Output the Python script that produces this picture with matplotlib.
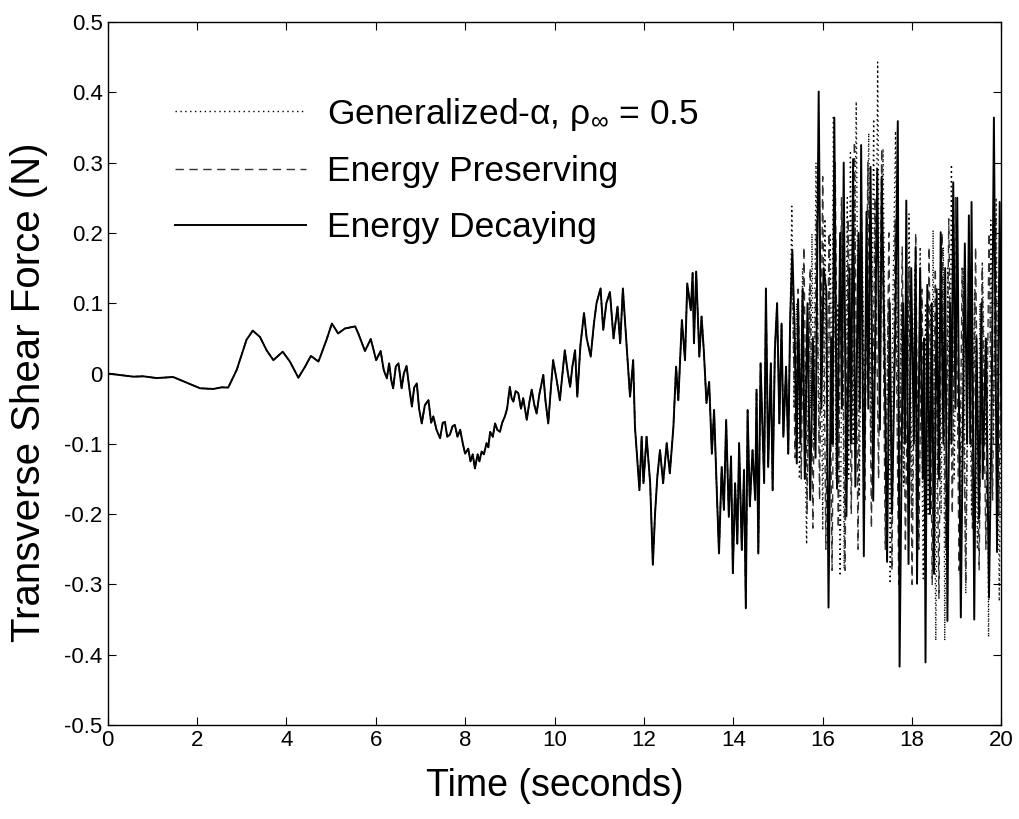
import matplotlib
matplotlib.use("Agg")
import matplotlib.pyplot as plt
import numpy as np

plt.rcParams['font.family'] = ['Liberation Sans', 'DejaVu Sans']
plt.rcParams['mathtext.fontset'] = 'custom'
plt.rcParams['mathtext.rm'] = 'Liberation Sans'
plt.rcParams['mathtext.it'] = 'Liberation Sans'

# ---- data ----
# common part shared by all three schemes (t in s, force in N)
base_t = [0, 0.58, 0.8, 1.1, 1.47, 1.77, 2.07, 2.37, 2.55, 2.70, 2.89, 3.11, 3.25, 3.41,
          3.56, 3.71, 3.92, 4.08, 4.27, 4.42, 4.55, 4.72, 4.90, 5.02, 5.16, 5.31, 5.54,
          5.61, 5.76, 5.89, 6.01, 6.11, 6.18, 6.25, 6.30, 6.35, 6.39, 6.45, 6.51, 6.58,
          6.63, 6.69, 6.75, 6.81, 6.86, 6.92, 6.97, 7.03, 7.10, 7.18, 7.24, 7.29, 7.36,
          7.44, 7.50, 7.55, 7.60, 7.66, 7.72, 7.77, 7.83, 7.89, 7.95, 8.00, 8.07, 8.12,
          8.17, 8.22, 8.28, 8.32, 8.37, 8.42, 8.48, 8.52, 8.56, 8.62, 8.67, 8.72, 8.78,
          8.83, 8.89, 8.94, 9.00, 9.04, 9.08, 9.13, 9.19, 9.25, 9.30, 9.38, 9.44, 9.49,
          9.55, 9.60, 9.66, 9.75, 9.80, 9.86, 9.92, 9.97, 10.05, 10.12, 10.18, 10.23,
          10.30, 10.35, 10.40, 10.46, 10.51, 10.58, 10.66, 10.72, 10.81, 10.88, 10.94,
          11.03, 11.09, 11.16, 11.24, 11.32, 11.41, 11.47, 11.53, 11.62, 11.69, 11.76,
          11.80, 11.90, 11.95, 11.99, 12.06, 12.14, 12.20, 12.25, 12.30, 12.36, 12.43,
          12.51, 12.58, 12.66, 12.72, 12.77, 12.85, 12.92, 12.97, 13.05, 13.09, 13.12,
          13.17, 13.24, 13.29, 13.34, 13.40, 13.46, 13.52, 13.57, 13.63, 13.68, 13.74,
          13.79, 13.84, 13.90, 13.95, 13.99, 14.04, 14.09, 14.13, 14.19, 14.24, 14.28,
          14.32, 14.37, 14.43, 14.49, 14.52, 14.56, 14.61, 14.66, 14.69, 14.73, 14.78,
          14.84, 14.88, 14.93, 14.98, 15.03, 15.08, 15.12, 15.18, 15.23, 15.27]
base_v = [0, -0.0045, -0.004, -0.0065, -0.005, -0.013, -0.021, -0.022, -0.0197, -0.020,
          0.005, 0.048, 0.061, 0.052, 0.033, 0.019, 0.031, 0.017, -0.006, 0.0097, 0.025,
          0.017, 0.048, 0.071, 0.057, 0.064, 0.067, 0.057, 0.032, 0.049, 0.019, 0.032,
          0.005, -0.007, 0.0145, -0.01, -0.021, 0.01, 0.0145, -0.021, 0.0, 0.0107, -0.02,
          -0.047, -0.02, -0.014, -0.05, -0.071, -0.045, -0.038, -0.07, -0.061, -0.08,
          -0.092, -0.07, -0.069, -0.09, -0.087, -0.075, -0.073, -0.09, -0.080, -0.10,
          -0.114, -0.107, -0.125, -0.115, -0.135, -0.115, -0.125, -0.111, -0.115, -0.099,
          -0.105, -0.083, -0.09, -0.071, -0.08, -0.083, -0.07, -0.061, -0.05, -0.019,
          -0.035, -0.040, -0.025, -0.028, -0.05, -0.035, -0.066, -0.04, -0.023, -0.045,
          -0.057, -0.03, -0.002, -0.04, -0.071, -0.02, 0.019, -0.01, -0.038, 0.00, 0.033,
          0.0, -0.019, 0.01, 0.033, -0.033, 0.04, 0.086, 0.05, 0.024, 0.07, 0.100, 0.121,
          0.062, 0.10, 0.116, 0.050, 0.095, 0.043, 0.121, 0.033, -0.033, 0.019, -0.076,
          -0.166, -0.090, -0.156, -0.090, -0.156, -0.272, -0.199, -0.147, -0.109, -0.156,
          -0.099, -0.142, -0.076, 0.0097, -0.038, 0.076, 0.019, 0.128, 0.090, 0.143, 0.043,
          0.145, 0.024, 0.081, 0.033, -0.042, -0.012, -0.114, -0.052, -0.166, -0.256,
          -0.133, -0.194, -0.066, -0.204, -0.118, -0.284, -0.156, -0.242, -0.099, -0.251,
          -0.137, -0.334, -0.052, -0.189, -0.109, -0.180, -0.023, -0.256, 0.0145, -0.090,
          -0.156, 0.121, -0.133, 0.0145, -0.166, 0.033, 0.100, -0.071, 0.071, -0.090,
          0.0097, -0.114, 0.071]

# Generalized-alpha tail (t > 15.27 s)
ga_tail_t = [15.31, 15.36, 15.42, 15.48, 15.55, 15.64, 15.70, 15.73, 15.76, 15.80, 15.85,
             15.92, 15.96, 16.00, 16.05, 16.10, 16.17, 16.20, 16.24, 16.30, 16.34, 16.39,
             16.44, 16.48, 16.55, 16.58, 16.62, 16.68, 16.75, 16.82, 16.88, 16.94, 17.03,
             17.08, 17.14, 17.18, 17.23, 17.28, 17.35, 17.42, 17.47, 17.51, 17.57, 17.63,
             17.70, 17.76, 17.81, 17.87, 17.90, 17.93, 18.00, 18.06, 18.11, 18.18, 18.25,
             18.30, 18.36, 18.42, 18.44, 18.47, 18.53, 18.60, 18.65, 18.70, 18.73, 18.80,
             18.84, 18.88, 18.94, 19.01, 19.08, 19.15, 19.20, 19.27, 19.33, 19.40, 19.46,
             19.52, 19.54, 19.57, 19.65, 19.68, 19.71, 19.76, 19.82, 19.88, 19.95, 20.0]
ga_tail_v = [0.238, -0.05, 0.10, -0.15, 0.15, -0.243, 0.12, -0.05, 0.199, -0.10, 0.30,
             -0.10, 0.10, -0.223, 0.22, -0.15, 0.20, -0.10, 0.367, -0.15, 0.10, -0.288,
             0.15, -0.278, 0.25, -0.15, 0.314, -0.10, 0.387, -0.175, 0.20, -0.05, 0.342,
             -0.10, 0.362, 0.0, 0.443, -0.05, 0.32, -0.15, 0.10, -0.299, 0.10, 0.345,
             -0.15, 0.10, -0.161, 0.15, -0.05, 0.227, -0.20, 0.15, -0.285, 0.18, -0.292,
             0.10, -0.20, 0.10, -0.10, 0.204, -0.38, 0.12, -0.20, 0.18, -0.38, 0.15,
             -0.10, 0.297, -0.15, 0.20, -0.285, 0.15, -0.313, 0.10, -0.20, 0.12, -0.25,
             0.10, -0.10, 0.159, -0.10, 0.05, -0.375, 0.218, -0.10, 0.25, -0.324, 0.05]

# Energy Preserving tail
ep_tail_t = [15.32, 15.38, 15.45, 15.52, 15.58, 15.65, 15.72, 15.78, 15.86, 15.93, 16.00,
             16.07, 16.14, 16.21, 16.28, 16.35, 16.42, 16.50, 16.57, 16.64, 16.71, 16.79,
             16.86, 16.94, 17.01, 17.09, 17.17, 17.25, 17.32, 17.40, 17.48, 17.55, 17.62,
             17.70, 17.78, 17.85, 17.93, 18.00, 18.08, 18.15, 18.22, 18.30, 18.38, 18.45,
             18.52, 18.60, 18.67, 18.75, 18.82, 18.90, 18.97, 19.05, 19.12, 19.20, 19.27,
             19.35, 19.42, 19.50, 19.57, 19.65, 19.72, 19.80, 19.87, 19.94, 20.0]
ep_tail_v = [0.17, -0.12, 0.12, -0.15, 0.18, -0.20, 0.15, -0.22, 0.22, -0.18, 0.28,
             -0.25, 0.20, -0.28, 0.30, -0.22, 0.25, -0.28, 0.22, -0.20, 0.33, -0.25,
             0.28, -0.18, 0.30, -0.22, 0.25, -0.15, 0.32, -0.25, 0.20, -0.28, 0.22,
             -0.30, 0.18, -0.25, 0.15, -0.30, 0.20, -0.25, 0.12, -0.28, 0.18, -0.30,
             0.15, -0.32, 0.20, -0.25, 0.22, -0.20, 0.25, -0.28, 0.15, -0.30, 0.20,
             -0.22, 0.18, -0.28, 0.15, -0.25, 0.20, -0.18, 0.22, -0.20, 0.10]

# Energy Decaying tail
ed_tail_t = [15.32, 15.37, 15.42, 15.45, 15.50, 15.55, 15.60, 15.66, 15.72, 15.78, 15.84,
             15.91, 15.97, 16.02, 16.08, 16.13, 16.19, 16.22, 16.26, 16.32, 16.39, 16.43,
             16.47, 16.53, 16.60, 16.63, 16.68, 16.73, 16.80, 16.83, 16.86, 16.92, 16.98,
             17.02, 17.07, 17.13, 17.22, 17.28, 17.32, 17.38, 17.44, 17.50, 17.55, 17.62,
             17.68, 17.72, 17.80, 17.84, 17.87, 17.92, 17.98, 18.04, 18.08, 18.11, 18.18,
             18.24, 18.27, 18.30, 18.34, 18.40, 18.44, 18.49, 18.55, 18.60, 18.64, 18.70,
             18.74, 18.79, 18.85, 18.88, 18.92, 18.97, 19.01, 19.09, 19.14, 19.18, 19.23,
             19.27, 19.30, 19.33, 19.39, 19.44, 19.50, 19.55, 19.58, 19.65, 19.72, 19.78,
             19.83, 19.90, 19.96, 20.0]
ed_tail_v = [0.176, 0.067, -0.128, 0.105, -0.10, 0.12, -0.15, 0.10, -0.18, 0.05, -0.12,
             0.401, -0.05, 0.15, 0.12, -0.333, 0.05, -0.10, 0.364, -0.164, 0.20, -0.05,
             0.300, -0.203, 0.15, -0.10, 0.305, -0.161, 0.20, -0.05, 0.325, -0.260, 0.23,
             -0.05, 0.294, -0.181, 0.291, -0.08, 0.28, 0.05, -0.268, 0.10, -0.20, 0.05,
             0.359, -0.417, 0.10, -0.10, 0.246, -0.271, 0.15, -0.10, 0.18, -0.299, 0.15,
             -0.15, 0.05, -0.411, 0.126, -0.20, 0.10, -0.285, 0.12, -0.15, 0.201, -0.10,
             0.15, -0.352, 0.10, -0.10, 0.272, -0.05, 0.250, -0.347, -0.05, 0.185, -0.10,
             0.225, -0.10, 0.244, -0.350, 0.05, -0.206, 0.10, -0.15, 0.05, -0.319, -0.05,
             0.364, -0.254, 0.244, -0.10]

labels = [r'Generalized-$\mathregular{\alpha}$, $\mathregular{\rho_{\infty}}$ = 0.5',
          'Energy Preserving', 'Energy Decaying']
xticks = [0, 2, 4, 6, 8, 10, 12, 14, 16, 18, 20]
yticks = [-0.5, -0.4, -0.3, -0.2, -0.1, 0, 0.1, 0.2, 0.3, 0.4, 0.5]
ytick_labels = ['-0.5', '-0.4', '-0.3', '-0.2', '-0.1', '0', '0.1', '0.2', '0.3', '0.4', '0.5']

# ---- plot ----
fig = plt.figure(figsize=(10.19, 8.19), dpi=100)
ax = fig.add_axes([107.5 / 1019, 94 / 819, 894 / 1019, 703 / 819])

ga_t = base_t + ga_tail_t
ga_v = base_v + ga_tail_v
ep_t = base_t + ep_tail_t
ep_v = base_v + ep_tail_v
ed_t = base_t + ed_tail_t
ed_v = base_v + ed_tail_v

ax.plot(ga_t, ga_v, color='black', lw=1.0, dashes=(1, 2.5), label=labels[0])
ax.plot(ep_t, ep_v, color='#333333', lw=1.0, dashes=(6, 4), label=labels[1])
ax.plot(ed_t, ed_v, color='black', lw=1.4, label=labels[2])

ax.set_xlim(0, 20)
ax.set_ylim(-0.5, 0.5)
ax.set_xticks(xticks)
ax.set_xticklabels([str(x) for x in xticks])
ax.set_yticks(yticks)
ax.set_yticklabels(ytick_labels)
ax.tick_params(direction='in', length=6, width=0.8, labelsize=16, top=True, right=True)
for s in ax.spines.values():
    s.set_linewidth(1.0)

ax.set_xlabel('Time (seconds)', fontsize=27, labelpad=12)
ax.set_ylabel('Transverse Shear Force (N)', fontsize=29)
ax.yaxis.set_label_coords(-0.066, 0.474)

leg = ax.legend(loc='upper left', bbox_to_anchor=(0.075, 0.895), frameon=False,
                fontsize=25.5, handlelength=3.7, handletextpad=0.6, labelspacing=0.64,
                borderpad=0, borderaxespad=0)

fig.savefig('out.png', dpi=100)
